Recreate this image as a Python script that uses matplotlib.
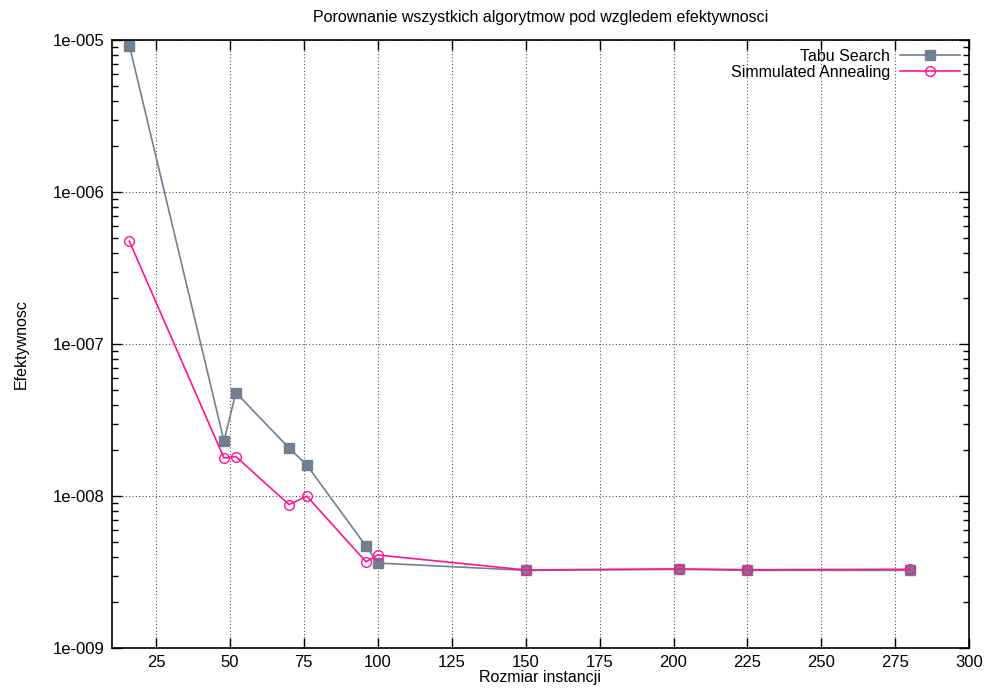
import numpy as np
import matplotlib
matplotlib.use("Agg")
import matplotlib.pyplot as plt
from matplotlib.ticker import FixedLocator, FuncFormatter, LogLocator, NullFormatter

plt.rcParams["font.family"] = ["Liberation Sans", "DejaVu Sans"]

# Data
sizes = [16, 48, 52, 70, 76, 96, 100, 150, 202, 225, 280]
tabu = [9.2e-6, 2.3e-8, 4.8e-8, 2.07e-8, 1.6e-8, 4.7e-9, 3.63e-9, 3.25e-9, 3.3e-9, 3.25e-9, 3.25e-9]
sa = [4.75e-7, 1.78e-8, 1.82e-8, 8.8e-9, 1.0e-8, 3.7e-9, 4.1e-9, 3.27e-9, 3.32e-9, 3.28e-9, 3.3e-9]

x_ticks = [25, 50, 75, 100, 125, 150, 175, 200, 225, 250, 275, 300]
y_ticks = [1e-9, 1e-8, 1e-7, 1e-6, 1e-5]

fig = plt.figure(figsize=(9.88, 6.91), dpi=100)
ax = fig.add_axes([0.113, 0.062, 0.868, 0.880])

ax.plot(sizes, tabu, color="#708090", lw=1.2, marker="s", ms=7,
        markerfacecolor="#708090", markeredgecolor="#708090", label="Tabu Search")
ax.plot(sizes, sa, color="#ff1493", lw=1.2, marker="o", ms=7,
        markerfacecolor="none", markeredgecolor="#ff1493", label="Simmulated Annealing")

ax.set_yscale("log")
ax.set_xlim(10, 300)
ax.set_ylim(1e-9, 1e-5)
ax.xaxis.set_major_locator(FixedLocator(x_ticks))
ax.yaxis.set_major_locator(FixedLocator(y_ticks))
ax.yaxis.set_major_formatter(FuncFormatter(lambda v, p: "1e-%03d" % round(-np.log10(v))))
ax.yaxis.set_minor_locator(LogLocator(base=10, subs=np.arange(2, 10)))
ax.yaxis.set_minor_formatter(NullFormatter())

ax.tick_params(which="both", direction="in", top=True, right=True, labelsize=12)
ax.tick_params(axis="x", pad=5)
ax.tick_params(axis="y", pad=5)
ax.tick_params(which="major", length=7, width=1)
ax.tick_params(which="minor", length=4, width=1)
for s in ax.spines.values():
    s.set_linewidth(1.2)

ax.grid(True, which="major", color="#555555", linestyle=(0, (1, 2)), lw=0.8)

ax.set_title("Porownanie wszystkich algorytmow pod wzgledem efektywnosci", fontsize=11.5, pad=13)
ax.set_xlabel("Rozmiar instancji", fontsize=11.5, labelpad=0)
ax.set_ylabel("Efektywnosc", fontsize=11.5, labelpad=17)

ax.legend(loc="upper right", frameon=False, markerfirst=False, fontsize=11.5,
          handlelength=3.8, borderaxespad=0.25, borderpad=0.3, labelspacing=0.05,
          handletextpad=0.6)

fig.savefig("out.png", dpi=100)
